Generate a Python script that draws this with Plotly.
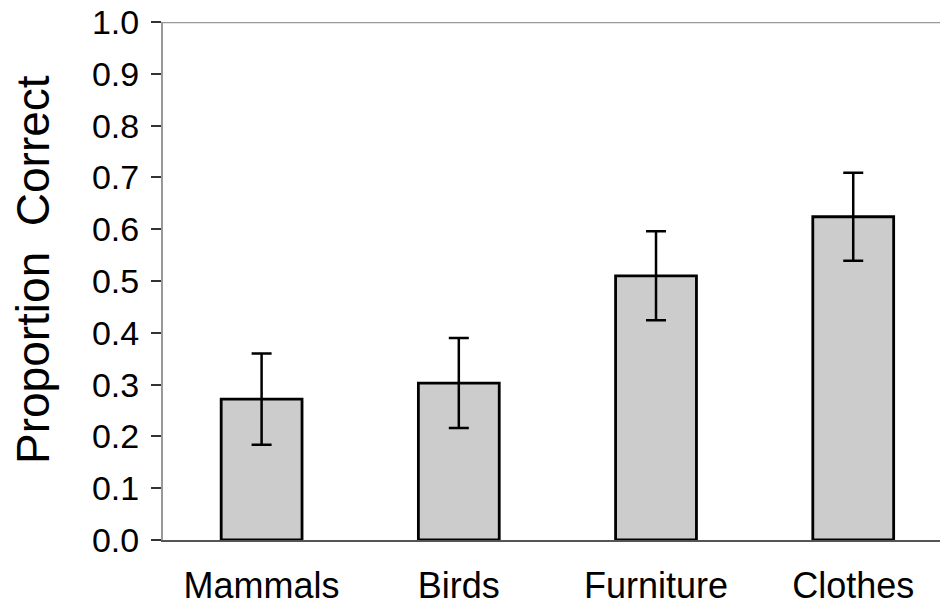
import plotly.graph_objects as go

categories = ["Mammals", "Birds", "Furniture", "Clothes"]
values = [0.272, 0.303, 0.510, 0.624]
errors = [0.088, 0.087, 0.086, 0.085]
y_ticks = [0.0, 0.1, 0.2, 0.3, 0.4, 0.5, 0.6, 0.7, 0.8, 0.9, 1.0]

FONT = "Liberation Sans, Arial, Helvetica, sans-serif"

fig = go.Figure()
fig.add_trace(go.Bar(
    x=categories,
    y=values,
    width=0.41,
    marker=dict(color="#cccccc", line=dict(color="black", width=2.8)),
    error_y=dict(type="data", array=errors, visible=True,
                 color="black", thickness=2.5, width=10),
))

fig.update_layout(
    width=940, height=605,
    margin=dict(l=163, r=0, t=22, b=65),
    plot_bgcolor="white", paper_bgcolor="white",
    showlegend=False,
    font=dict(family=FONT, color="black"),
)
fig.update_xaxes(
    range=[-0.5, 3.44],
    automargin=False,
    showline=True, linecolor="#555555", linewidth=1.5,
    ticks="", showgrid=False, zeroline=False,
    tickfont=dict(size=36, family=FONT, color="black"),
    ticklabelstandoff=13,
)
fig.update_yaxes(
    range=[0, 1],
    automargin=False,
    tickvals=y_ticks,
    ticktext=[f"{v:.1f}" for v in y_ticks],
    showline=True, linecolor="#999999", linewidth=2,
    ticks="outside", ticklen=10, tickcolor="#333333", tickwidth=1.5,
    showgrid=False, zeroline=False,
    tickfont=dict(size=34, family=FONT, color="black"),
    ticklabelstandoff=5,
)
fig.add_shape(type="line", xref="paper", yref="y", x0=0, x1=1, y0=1, y1=1,
              line=dict(color="#999999", width=2.5), layer="above")
fig.add_annotation(
    text="Proportion  Correct", textangle=-90,
    xref="paper", yref="paper",
    x=(33 - 163) / 777, y=(540 - 270) / 518,
    xanchor="center", yanchor="middle", showarrow=False,
    font=dict(size=46, family=FONT, color="black"),
)

fig.write_html(
    "out.html",
    config={"displayModeBar": False},
    post_script="document.body.style.margin='0';document.body.style.overflow='hidden';",
)
